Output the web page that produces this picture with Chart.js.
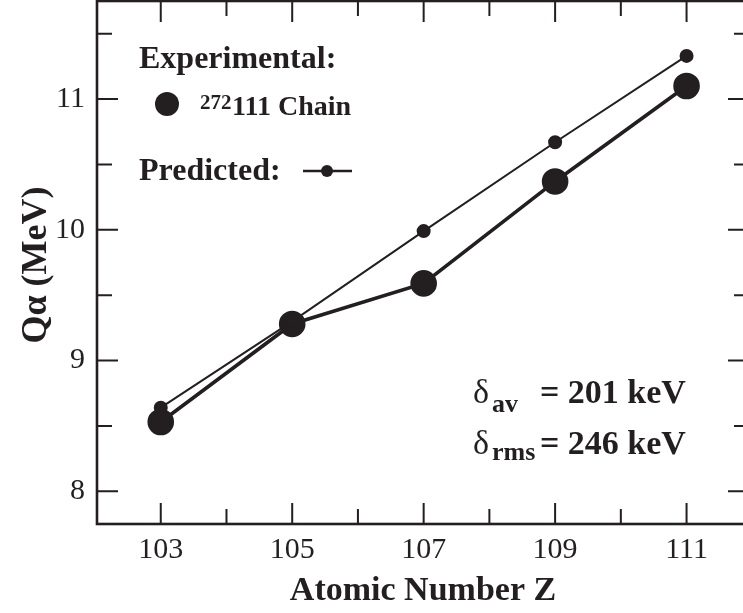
<!DOCTYPE html>
<html>
<head>
<meta charset="utf-8">
<script src="https://cdn.jsdelivr.net/npm/chart.js@4"></script>
<style>
  html, body { margin: 0; padding: 0; background: #fff; overflow: hidden; }
  #wrap { width: 760px; height: 613px; }
</style>
</head>
<body>
<div id="wrap"><canvas id="myChart" width="760" height="613"></canvas></div>
<script>
// data
const atomicNumbers = [103, 105, 107, 109, 111];
const experimental = [8.53, 9.28, 9.59, 10.37, 11.10];
const predicted = [8.64, 9.30, 9.99, 10.67, 11.33];

// tick labels
const xTicks = [103, 105, 107, 109, 111];
const xMinor = [104, 106, 108, 110];
const yTicks = [8, 9, 10, 11];
const yMinor = [8.5, 9.5, 10.5, 11.5];

const ink = '#231f20';
const serif = '"Liberation Serif", "Times New Roman", serif';

const toPoints = (ys) => atomicNumbers.map((x, i) => ({ x: x, y: ys[i] }));

// frame, inward ticks, titles and text boxes
const decor = {
  id: 'decor',
  afterDraw(chart) {
    const ctx = chart.ctx;
    const a = chart.chartArea;
    const xs = chart.scales.x;
    const ys = chart.scales.y;
    ctx.save();
    ctx.strokeStyle = ink;
    ctx.fillStyle = ink;

    // frame
    ctx.lineWidth = 2.6;
    ctx.strokeRect(a.left, a.top, a.right - a.left, a.bottom - a.top);

    // ticks on all four sides
    ctx.lineWidth = 2;
    const tick = (v, len, horiz) => {
      ctx.beginPath();
      if (horiz) {
        const px = xs.getPixelForValue(v);
        ctx.moveTo(px, a.bottom); ctx.lineTo(px, a.bottom - len);
        ctx.moveTo(px, a.top); ctx.lineTo(px, a.top + len);
      } else {
        const py = ys.getPixelForValue(v);
        ctx.moveTo(a.left, py); ctx.lineTo(a.left + len, py);
        ctx.moveTo(a.right, py); ctx.lineTo(a.right - len, py);
      }
      ctx.stroke();
    };
    xTicks.forEach(v => tick(v, 21, true));
    xMinor.forEach(v => tick(v, 15, true));
    yTicks.forEach(v => tick(v, 21, false));
    yMinor.forEach(v => tick(v, 15, false));

    // axis titles
    ctx.textAlign = 'center';
    ctx.textBaseline = 'alphabetic';
    ctx.font = 'bold 34px ' + serif;
    ctx.fillText('Atomic Number Z', (a.left + a.right) / 2, 600);
    ctx.save();
    ctx.font = 'bold 36px ' + serif;
    ctx.translate(46, 265);
    ctx.rotate(-Math.PI / 2);
    ctx.fillText('Q\u03b1 (MeV)', 0, 0);
    ctx.restore();

    // legend block
    ctx.textAlign = 'left';
    ctx.font = 'bold 32px ' + serif;
    ctx.fillText('Experimental:', 139, 68);
    ctx.beginPath();
    ctx.arc(167, 104, 12, 0, Math.PI * 2);
    ctx.fill();
    ctx.font = 'bold 21px ' + serif;
    ctx.fillText('272', 200, 109);
    ctx.font = 'bold 28px ' + serif;
    ctx.fillText('111 Chain', 232, 115);

    ctx.font = 'bold 32px ' + serif;
    ctx.fillText('Predicted:', 139, 180);
    ctx.lineWidth = 2.5;
    ctx.beginPath();
    ctx.moveTo(303, 171); ctx.lineTo(352, 171);
    ctx.stroke();
    ctx.beginPath();
    ctx.arc(327, 171, 6, 0, Math.PI * 2);
    ctx.fill();

    // deviation box
    const dLine = (sub, rest, y, subY) => {
      ctx.font = '34px ' + serif;
      ctx.fillText('\u03b4', 473, y);
      ctx.font = 'bold 26px ' + serif;
      ctx.fillText(sub, 492, subY);
      ctx.font = 'bold 34px ' + serif;
      ctx.fillText(rest, 540, y);
    };
    dLine('av', '= 201 keV', 403, 412);
    dLine('rms', '= 246 keV', 454, 460);

    ctx.restore();
  }
};

const config = {
  type: 'line',
  data: {
    datasets: [
      {
        label: 'Predicted',
        data: toPoints(predicted),
        borderColor: ink,
        backgroundColor: ink,
        borderWidth: 2,
        pointRadius: 6,
        pointHoverRadius: 6,
        tension: 0
      },
      {
        label: '272111 Chain',
        data: toPoints(experimental),
        borderColor: ink,
        backgroundColor: ink,
        borderWidth: 3.6,
        pointRadius: 11.5,
        pointHoverRadius: 11.5,
        tension: 0
      }
    ]
  },
  options: {
    responsive: false,
    animation: false,
    layout: { autoPadding: false, padding: { top: 1, right: 11, left: 0, bottom: 0 } },
    scales: {
      x: {
        type: 'linear',
        min: 102.03,
        max: 111.95,
        afterBuildTicks: (s) => { s.ticks = xTicks.map(v => ({ value: v })); },
        afterFit: (s) => { s.height = 89; s.paddingLeft = 0; s.paddingRight = 0; },
        grid: { display: false, drawTicks: false },
        border: { display: false },
        ticks: {
          padding: 8,
          color: ink,
          font: { family: serif, size: 30 },
          callback: (v) => String(v)
        }
      },
      y: {
        min: 7.75,
        max: 11.75,
        afterBuildTicks: (s) => { s.ticks = yTicks.map(v => ({ value: v })); },
        afterFit: (s) => { s.width = 97; s.paddingTop = 0; s.paddingBottom = 0; },
        grid: { display: false, drawTicks: false },
        border: { display: false },
        ticks: {
          padding: 12,
          color: ink,
          font: { family: serif, size: 30 },
          callback: (v) => String(v)
        }
      }
    },
    plugins: {
      legend: { display: false },
      tooltip: { enabled: false }
    }
  },
  plugins: [decor]
};

const myChart = new Chart(document.getElementById('myChart'), config);
</script>
</body>
</html>
